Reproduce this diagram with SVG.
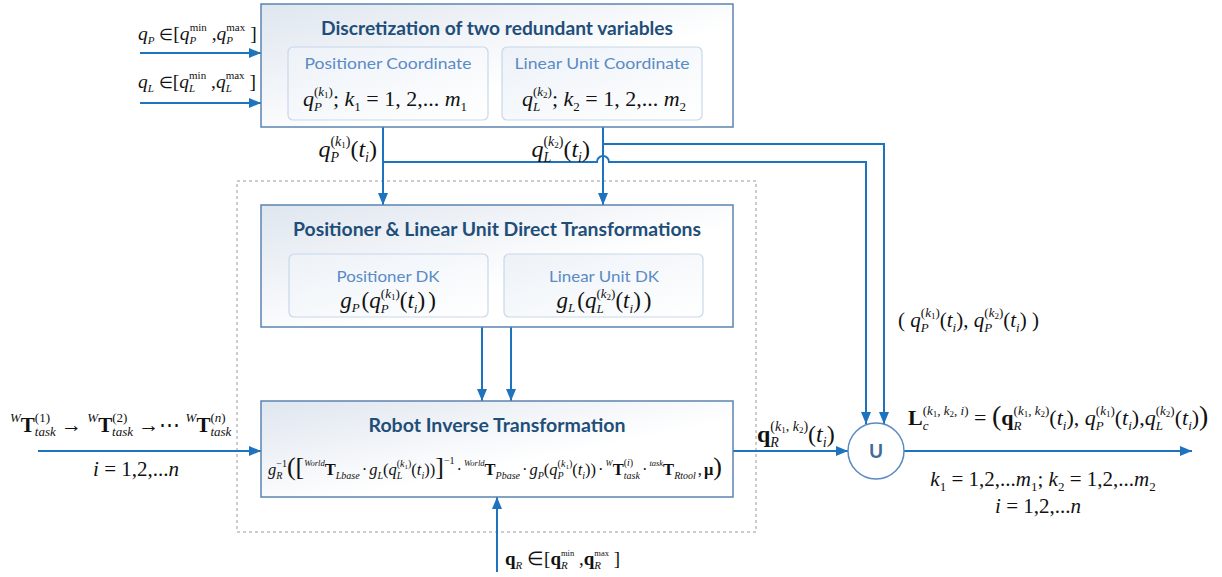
<svg xmlns="http://www.w3.org/2000/svg" width="1222" height="577" viewBox="0 0 1222 577">
<style>
.box{stroke:#5B84B1;stroke-width:1.5;fill:url(#gBox)}
.sub{stroke:#C8D7EA;stroke-width:1.2;fill:url(#gSub)}
.ttl{font-family:Lato,"Liberation Sans",sans-serif;font-weight:bold;font-size:18px;fill:#1F4E79}
.lbl{font-family:Lato,"Liberation Sans",sans-serif;font-size:16px;fill:#5A8BC6}
.m{font-family:"Liberation Serif",serif;font-size:20px;fill:#111}
.i{font-style:italic}
.b{font-weight:bold}
.s{font-size:13px}
.s2{font-size:14px}
.x{font-size:11px}
.t{font-size:9px}
.r{font-size:16.5px}
.rs{font-size:10px}
.rw{font-size:8.5px}
.rt{font-size:7px}
.big{font-size:26px}
.el{font-size:16px}
.cn{fill:none;stroke:#1E73BE;stroke-width:2}
.ar{marker-end:url(#ah)}
</style>
<defs>
<linearGradient id="gBox" x1="0" y1="0" x2="1" y2="1"><stop offset="0" stop-color="#DFE6EF"/><stop offset="0.6" stop-color="#FFFFFF"/><stop offset="1" stop-color="#FFFFFF"/></linearGradient>
<linearGradient id="gSub" x1="0" y1="0" x2="1" y2="1"><stop offset="0" stop-color="#EDF2F8"/><stop offset="1" stop-color="#FFFFFF"/></linearGradient>
<marker id="ah" markerWidth="12" markerHeight="10" refX="12" refY="5" orient="auto" markerUnits="userSpaceOnUse"><path d="M0,0 L12,5 L0,10 z" fill="#1E73BE"/></marker>
</defs>

<rect x="237" y="181" width="519" height="351" fill="none" stroke="#9A9A9A" stroke-width="1" stroke-dasharray="3,3"/>

<g id="connectors">
<line class="cn ar" x1="140" y1="53" x2="261" y2="53"/>
<line class="cn ar" x1="140" y1="103" x2="261" y2="103"/>
<line class="cn ar" x1="383" y1="127" x2="383" y2="205"/>
<line class="cn ar" x1="603" y1="127" x2="603" y2="205"/>
<path class="cn ar" d="M603,144 H884 V424"/>
<path class="cn ar" d="M383,162 H597 A6,6 0 0 1 609,162 H866 V424"/>
<line class="cn ar" x1="482" y1="327" x2="482" y2="401"/>
<line class="cn ar" x1="511" y1="327" x2="511" y2="401"/>
<line class="cn ar" x1="38" y1="451" x2="261" y2="451"/>
<line class="cn ar" x1="497" y1="572" x2="497" y2="497"/>
<line class="cn ar" x1="733" y1="451" x2="848" y2="451"/>
<line class="cn ar" x1="904" y1="451" x2="1192" y2="451"/>
</g>

<g id="inputs">
<text class="m" x="138" y="40" style="font-size:19.5px"><tspan class="i">q</tspan><tspan class="x i" dy="4">P</tspan><tspan dy="-4"> </tspan><tspan class="el">∈</tspan><tspan>[</tspan><tspan class="i">q</tspan><tspan class="x i" dy="4">P</tspan><tspan class="x" dx="-6.7" dy="-13">min</tspan><tspan dy="9"> ,</tspan><tspan class="i">q</tspan><tspan class="x i" dy="4">P</tspan><tspan class="x" dx="-6.7" dy="-13">max</tspan><tspan dy="9"> ]</tspan></text>
<text class="m" x="138" y="88" style="font-size:19.5px"><tspan class="i">q</tspan><tspan class="x i" dy="4">L</tspan><tspan dy="-4"> </tspan><tspan class="el">∈</tspan><tspan>[</tspan><tspan class="i">q</tspan><tspan class="x i" dy="4">L</tspan><tspan class="x" dx="-6.1" dy="-13">min</tspan><tspan dy="9"> ,</tspan><tspan class="i">q</tspan><tspan class="x i" dy="4">L</tspan><tspan class="x" dx="-6.1" dy="-13">max</tspan><tspan dy="9"> ]</tspan></text>
<text class="m" x="10" y="432" style="font-size:21px"><tspan class="s i" dy="-10">W</tspan><tspan class="b" dy="10">T</tspan><tspan class="s" dy="-10">(1)</tspan><tspan class="s i" dx="-15.2" dy="14">task</tspan><tspan dy="-4"> → </tspan><tspan class="s i" dy="-10">W</tspan><tspan class="b" dy="10">T</tspan><tspan class="s" dy="-10">(2)</tspan><tspan class="s i" dx="-15.2" dy="14">task</tspan><tspan dy="-4"> →⋯ </tspan><tspan class="s i" dy="-10">W</tspan><tspan class="b" dy="10">T</tspan><tspan class="s" dy="-10">(<tspan class="i">n</tspan>)</tspan><tspan class="s i" dx="-15.2" dy="14">task</tspan></text>
<text class="m" x="136" y="476" text-anchor="middle" style="font-size:21px"><tspan class="i">i</tspan> = 1,2,...<tspan class="i">n</tspan></text>
<text class="m" x="505" y="565" style="font-size:19px"><tspan class="b">q</tspan><tspan class="x i" dy="4">R</tspan><tspan dy="-4"> ∈[</tspan><tspan class="b">q</tspan><tspan class="x i" dy="4">R</tspan><tspan class="rw" dx="-6.7" dy="-13">min</tspan><tspan dy="9"> ,</tspan><tspan class="b">q</tspan><tspan class="x i" dy="4">R</tspan><tspan class="rw" dx="-6.7" dy="-13">max</tspan><tspan dy="9"> ]</tspan></text>
</g>

<g id="discretization">
<rect class="box" x="261" y="4" width="472" height="123"/>
<text class="ttl" x="497" y="35" text-anchor="middle" textLength="352" lengthAdjust="spacingAndGlyphs">Discretization of two redundant variables</text>
<rect class="sub" x="288" y="47" width="200" height="73" rx="5"/>
<rect class="sub" x="502" y="47" width="200" height="73" rx="5"/>
<text class="lbl" x="388" y="69" text-anchor="middle" textLength="167" lengthAdjust="spacingAndGlyphs">Positioner Coordinate</text>
<text class="lbl" x="602" y="69" text-anchor="middle" textLength="175" lengthAdjust="spacingAndGlyphs">Linear Unit Coordinate</text>
<text class="m" x="385" y="106" text-anchor="middle" style="font-size:22px"><tspan class="i">q</tspan><tspan class="s i" dy="5">P</tspan><tspan class="s" dx="-7.9" dy="-15">(<tspan class="i">k</tspan><tspan class="t" dy="2">1</tspan><tspan dy="-2">)</tspan></tspan><tspan dy="10">; </tspan><tspan class="i">k</tspan><tspan class="s" dy="5">1</tspan><tspan dy="-5"> = 1, 2,... </tspan><tspan class="i">m</tspan><tspan class="s" dy="5">1</tspan></text>
<text class="m" x="604" y="106" text-anchor="middle" style="font-size:22px"><tspan class="i">q</tspan><tspan class="s i" dy="5">L</tspan><tspan class="s" dx="-7.2" dy="-15">(<tspan class="i">k</tspan><tspan class="t" dy="2">2</tspan><tspan dy="-2">)</tspan></tspan><tspan dy="10">; </tspan><tspan class="i">k</tspan><tspan class="s" dy="5">2</tspan><tspan dy="-5"> = 1, 2,... </tspan><tspan class="i">m</tspan><tspan class="s" dy="5">2</tspan></text>
</g>

<g id="branch-labels">
<text class="m" x="377" y="157" text-anchor="end" style="font-size:24px"><tspan class="i">q</tspan><tspan class="s2 i" dy="5">P</tspan><tspan class="s2" dx="-8.6" dy="-16">(<tspan class="i">k</tspan><tspan class="t" dy="2">1</tspan><tspan dy="-2">)</tspan></tspan><tspan dy="11">(</tspan><tspan class="i">t</tspan><tspan class="s2 i" dy="5">i</tspan><tspan dy="-5">)</tspan></text>
<text class="m" x="590" y="157" text-anchor="end" style="font-size:24px"><tspan class="i">q</tspan><tspan class="s2 i" dy="5">L</tspan><tspan class="s2" dx="-7.8" dy="-16">(<tspan class="i">k</tspan><tspan class="t" dy="2">2</tspan><tspan dy="-2">)</tspan></tspan><tspan dy="11">(</tspan><tspan class="i">t</tspan><tspan class="s2 i" dy="5">i</tspan><tspan dy="-5">)</tspan></text>
<text class="m" x="898" y="327" style="font-size:21px"><tspan>(  </tspan><tspan class="i">q</tspan><tspan class="s i" dy="5">P</tspan><tspan class="s" dx="-7.9" dy="-15">(<tspan class="i">k</tspan><tspan class="t" dy="2">1</tspan><tspan dy="-2">)</tspan></tspan><tspan dy="10">(</tspan><tspan class="i">t</tspan><tspan class="s i" dy="5">i</tspan><tspan dy="-5">), </tspan><tspan class="i">q</tspan><tspan class="s i" dy="5">P</tspan><tspan class="s" dx="-7.9" dy="-15">(<tspan class="i">k</tspan><tspan class="t" dy="2">2</tspan><tspan dy="-2">)</tspan></tspan><tspan dy="10">(</tspan><tspan class="i">t</tspan><tspan class="s i" dy="5">i</tspan><tspan dy="-5">)  )</tspan></text>
</g>

<g id="direct-transformations">
<rect class="box" x="261" y="205" width="472" height="122"/>
<text class="ttl" x="497" y="236" text-anchor="middle" textLength="408" lengthAdjust="spacingAndGlyphs">Positioner &amp; Linear Unit Direct Transformations</text>
<rect class="sub" x="289" y="254" width="199" height="63" rx="5"/>
<rect class="sub" x="504" y="254" width="199" height="63" rx="5"/>
<text class="lbl" x="388" y="282" text-anchor="middle" textLength="103" lengthAdjust="spacingAndGlyphs">Positioner DK</text>
<text class="lbl" x="604" y="282" text-anchor="middle" textLength="110" lengthAdjust="spacingAndGlyphs">Linear Unit DK</text>
<text class="m" x="388" y="308" text-anchor="middle" style="font-size:23px"><tspan class="i">g</tspan><tspan class="s i" dy="4">P</tspan><tspan dx="2" dy="-4">(</tspan><tspan class="i">q</tspan><tspan class="s i" dy="5">P</tspan><tspan class="s" dx="-7.9" dy="-15">(<tspan class="i">k</tspan><tspan class="t" dy="2">1</tspan><tspan dy="-2">)</tspan></tspan><tspan dy="10">(</tspan><tspan class="i">t</tspan><tspan class="s i" dy="5">i</tspan><tspan dy="-5">)</tspan><tspan dx="3">)</tspan></text>
<text class="m" x="604" y="308" text-anchor="middle" style="font-size:23px"><tspan class="i">g</tspan><tspan class="s i" dy="4">L</tspan><tspan dx="2" dy="-4">(</tspan><tspan class="i">q</tspan><tspan class="s i" dy="5">L</tspan><tspan class="s" dx="-7.2" dy="-15">(<tspan class="i">k</tspan><tspan class="t" dy="2">2</tspan><tspan dy="-2">)</tspan></tspan><tspan dy="10">(</tspan><tspan class="i">t</tspan><tspan class="s i" dy="5">i</tspan><tspan dy="-5">)</tspan><tspan dx="3">)</tspan></text>
</g>

<g id="robot-inverse">
<rect class="box" x="261" y="401" width="472" height="96"/>
<text class="ttl" x="497" y="432" text-anchor="middle" textLength="257" lengthAdjust="spacingAndGlyphs" style="font-size:19px">Robot Inverse Transformation</text>
<text class="m r" x="495" y="475" text-anchor="middle"><tspan class="i">g</tspan><tspan class="rs i" dy="4">R</tspan><tspan class="rs" dx="-6.1" dy="-12">−1</tspan><tspan class="big" dy="8">([</tspan><tspan class="rw i" dy="-9">World</tspan><tspan class="b" dy="9">T</tspan><tspan class="rs i" dy="4">Lbase</tspan><tspan dx="2" dy="-4">·</tspan><tspan class="i" dx="2">g</tspan><tspan class="rs i" dy="4">L</tspan><tspan dy="-4">(</tspan><tspan class="i">q</tspan><tspan class="rs i" dy="4">L</tspan><tspan class="rs" dx="-5.6" dy="-12">(<tspan class="i">k</tspan><tspan class="rt" dy="2">1</tspan><tspan dy="-2">)</tspan></tspan><tspan dy="8">(</tspan><tspan class="i">t</tspan><tspan class="rs i" dy="4">i</tspan><tspan dy="-4">))</tspan><tspan class="big">]</tspan><tspan class="rs" dy="-11">−1</tspan><tspan dx="2" dy="11">·</tspan><tspan class="rw i" dx="2" dy="-9">World</tspan><tspan class="b" dy="9">T</tspan><tspan class="rs i" dy="4">Pbase</tspan><tspan dx="2" dy="-4">·</tspan><tspan class="i" dx="2">g</tspan><tspan class="rs i" dy="4">P</tspan><tspan dy="-4">(</tspan><tspan class="i">q</tspan><tspan class="rs i" dy="4">P</tspan><tspan class="rs" dx="-6.1" dy="-12">(<tspan class="i">k</tspan><tspan class="rt" dy="2">1</tspan><tspan dy="-2">)</tspan></tspan><tspan dy="8">(</tspan><tspan class="i">t</tspan><tspan class="rs i" dy="4">i</tspan><tspan dy="-4">))</tspan><tspan dx="2">·</tspan><tspan class="rw i" dx="2" dy="-9">W</tspan><tspan class="b" dy="9">T</tspan><tspan class="rs" dy="-9">(<tspan class="i">i</tspan>)</tspan><tspan class="rs i" dx="-9.4" dy="13">task</tspan><tspan dx="2" dy="-4">·</tspan><tspan class="rw i" dx="2" dy="-9">task</tspan><tspan class="b" dy="9">T</tspan><tspan class="rs i" dy="4">Rtool</tspan><tspan dx="2" dy="-4">,</tspan><tspan class="b" dx="2">μ</tspan><tspan class="big">)</tspan></text>
</g>

<g id="union">
<circle cx="876" cy="451" r="28" fill="#FFFFFF" stroke="#5A8AC0" stroke-width="1.5"/>
<text x="876" y="458" text-anchor="middle" style="font-family:Lato,'Liberation Sans',sans-serif;font-weight:bold;font-size:19px;fill:#3F6A9A">U</text>
</g>

<g id="output-labels">
<text class="m" x="757" y="442" style="font-size:24px"><tspan class="b">q</tspan><tspan class="s2 i" dy="5">R</tspan><tspan class="s2" dx="-8.6" dy="-16">(<tspan class="i">k</tspan><tspan class="t" dy="2">1</tspan><tspan dy="-2">, </tspan><tspan class="i">k</tspan><tspan class="t" dy="2">2</tspan><tspan dy="-2">)</tspan></tspan><tspan dy="11">(</tspan><tspan class="i">t</tspan><tspan class="s2 i" dy="5">i</tspan><tspan dy="-5">)</tspan></text>
<text class="m" x="908" y="425" style="font-size:22px"><tspan class="b">L</tspan><tspan class="s i" dy="5">c</tspan><tspan class="s" dx="-5.8" dy="-15">(<tspan class="i">k</tspan><tspan class="t" dy="2">1</tspan><tspan dy="-2">, </tspan><tspan class="i">k</tspan><tspan class="t" dy="2">2</tspan><tspan dy="-2">, </tspan><tspan class="i">i</tspan>)</tspan><tspan dy="10"> = </tspan><tspan class="big" style="font-size:28px">(</tspan><tspan class="b">q</tspan><tspan class="s i" dy="5">R</tspan><tspan class="s" dx="-7.9" dy="-15">(<tspan class="i">k</tspan><tspan class="t" dy="2">1</tspan><tspan dy="-2">, </tspan><tspan class="i">k</tspan><tspan class="t" dy="2">2</tspan><tspan dy="-2">)</tspan></tspan><tspan dy="10">(</tspan><tspan class="i">t</tspan><tspan class="s i" dy="5">i</tspan><tspan dy="-5">), </tspan><tspan class="i">q</tspan><tspan class="s i" dy="5">P</tspan><tspan class="s" dx="-7.9" dy="-15">(<tspan class="i">k</tspan><tspan class="t" dy="2">1</tspan><tspan dy="-2">)</tspan></tspan><tspan dy="10">(</tspan><tspan class="i">t</tspan><tspan class="s i" dy="5">i</tspan><tspan dy="-5">),</tspan><tspan class="i">q</tspan><tspan class="s i" dy="5">L</tspan><tspan class="s" dx="-7.2" dy="-15">(<tspan class="i">k</tspan><tspan class="t" dy="2">2</tspan><tspan dy="-2">)</tspan></tspan><tspan dy="10">(</tspan><tspan class="i">t</tspan><tspan class="s i" dy="5">i</tspan><tspan dy="-5">)</tspan><tspan class="big" style="font-size:28px">)</tspan></text>
<text class="m" x="1043" y="486" text-anchor="middle" style="font-size:21px"><tspan class="i">k</tspan><tspan class="s" dy="5">1</tspan><tspan dy="-5"> = 1,2,...</tspan><tspan class="i">m</tspan><tspan class="s" dy="5">1</tspan><tspan dy="-5">; </tspan><tspan class="i">k</tspan><tspan class="s" dy="5">2</tspan><tspan dy="-5"> = 1,2,...</tspan><tspan class="i">m</tspan><tspan class="s" dy="5">2</tspan></text>
<text class="m" x="1038" y="513" text-anchor="middle" style="font-size:21px"><tspan class="i">i</tspan> = 1,2,...<tspan class="i">n</tspan></text>
</g>
</svg>
